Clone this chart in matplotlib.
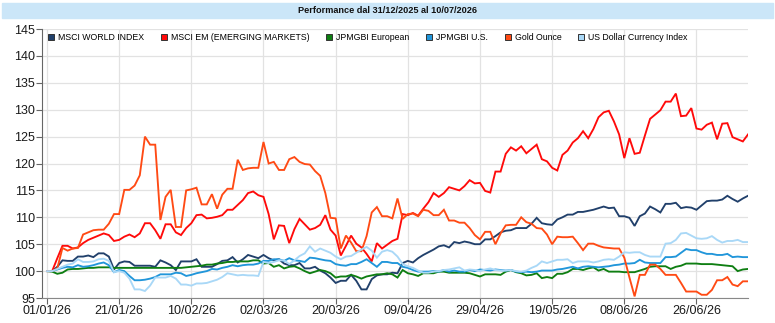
import numpy as np
import pandas as pd
import matplotlib
matplotlib.use('Agg')
import matplotlib.pyplot as plt
from matplotlib.lines import Line2D
from matplotlib.patches import Rectangle

plt.rcParams['font.family'] = ['Liberation Sans', 'DejaVu Sans']

# business days 01/01/2026 -> 10/07/2026
dates = pd.bdate_range('2026-01-01', '2026-07-10')

series_names = ['MSCI WORLD INDEX', 'MSCI EM (EMERGING MARKETS)', 'JPMGBI European',
                'JPMGBI U.S.', 'Gold Ounce', 'US Dollar Currency Index']

msci_world = [
    100.0, 100.0, 100.8, 102.0, 101.9, 101.9, 102.7, 102.7, 102.9, 102.6,
    103.3, 103.3, 102.7, 100.3, 101.5, 101.8, 101.7, 101.0, 101.0, 101.0,
    101.0, 100.8, 102.0, 101.6, 101.1, 100.2, 101.8, 101.8, 101.8, 102.2,
    100.8, 100.8, 100.8, 101.3, 101.9, 102.0, 102.6, 101.6, 102.2, 103.0,
    102.7, 102.4, 103.0, 102.4, 102.0, 102.2, 101.4, 101.1, 101.1, 101.5,
    100.5, 100.5, 100.8, 100.1, 99.6, 98.8, 97.8, 98.2, 98.2, 99.3,
    98.2, 96.6, 96.6, 98.5, 99.2, 99.4, 99.4, 99.7, 99.6, 101.5,
    101.9, 101.6, 102.4, 103.0, 103.5, 104.0, 104.6, 104.8, 104.4, 105.4,
    105.2, 105.5, 105.3, 105.0, 105.0, 105.9, 105.9, 106.5, 107.2, 107.5,
    107.6, 108.0, 108.0, 108.0, 108.8, 109.9, 108.9, 108.7, 108.6, 109.6,
    110.0, 110.5, 110.5, 111.0, 111.0, 111.2, 111.4, 111.7, 112.0, 111.7,
    111.8, 110.2, 110.2, 109.9, 108.4, 110.2, 110.7, 112.0, 111.5, 110.9,
    112.5, 112.5, 112.7, 111.7, 111.9, 111.8, 111.4, 112.2, 113.0, 113.1,
    113.1, 113.3, 114.0, 113.4, 112.9, 113.5, 114.0,
]

msci_em = [
    100.0, 100.0, 102.4, 104.7, 104.7, 104.2, 104.4, 105.2, 105.8, 106.2,
    106.6, 107.0, 106.7, 105.6, 105.8, 106.4, 106.8, 106.3, 107.0, 108.9,
    108.9, 107.6, 106.0, 108.7, 108.7, 107.2, 106.7, 108.0, 108.9, 110.4,
    110.5, 109.8, 109.9, 110.1, 110.4, 111.4, 111.4, 112.3, 113.2, 114.5,
    114.8, 114.1, 113.8, 110.6, 105.9, 108.5, 108.4, 105.2, 107.8, 109.7,
    108.7, 107.7, 108.0, 108.6, 110.4, 107.7, 106.6, 102.9, 104.7, 106.6,
    105.1, 104.4, 103.2, 101.8, 105.2, 104.2, 104.9, 105.6, 106.0, 110.6,
    110.4, 110.8, 110.3, 111.6, 112.8, 114.5, 113.8, 114.5, 115.6, 115.3,
    115.0, 115.8, 116.9, 116.3, 116.4, 114.9, 114.6, 118.5, 118.5, 121.8,
    123.0, 122.4, 123.2, 121.9, 122.7, 123.5, 120.8, 120.4, 119.2, 118.7,
    121.6, 122.4, 123.9, 124.7, 126.0, 124.7, 126.4, 128.6, 129.5, 129.8,
    127.8, 125.4, 121.0, 124.7, 121.8, 122.0, 125.2, 128.3, 129.1, 129.9,
    131.5, 131.5, 133.0, 128.8, 128.9, 130.3, 126.5, 126.3, 127.2, 127.6,
    124.5, 127.4, 127.5, 124.9, 124.5, 124.1, 125.4,
]

jpm_european = [
    100.0, 99.9, 99.5, 99.7, 100.3, 100.4, 100.4, 100.5, 100.6, 100.6,
    100.7, 100.7, 100.7, 100.6, 100.6, 100.6, 100.6, 100.6, 100.6, 100.6,
    100.6, 100.6, 100.6, 100.6, 100.6, 100.6, 100.6, 100.7, 100.8, 100.9,
    101.0, 101.2, 101.2, 101.4, 101.5, 101.7, 101.7, 101.8, 101.8, 101.8,
    102.0, 102.0, 101.4, 101.5, 100.8, 101.1, 100.5, 100.8, 100.9, 100.5,
    100.0, 99.6, 99.9, 100.2, 100.0, 99.6, 98.8, 99.0, 99.0, 99.3,
    99.0, 98.6, 99.0, 99.2, 99.4, 99.4, 99.6, 99.4, 98.8, 100.2,
    99.6, 99.4, 99.1, 99.6, 99.6, 99.6, 99.9, 99.9, 99.7, 99.7,
    99.7, 99.7, 99.6, 99.3, 99.0, 99.4, 99.4, 99.4, 99.3, 99.9,
    100.2, 99.8, 99.6, 99.2, 99.3, 99.6, 98.7, 98.9, 98.7, 99.5,
    99.5, 99.8, 100.4, 100.4, 100.2, 100.5, 100.7, 100.1, 100.4, 99.9,
    99.9, 99.9, 99.8, 99.8, 99.8, 100.1, 100.4, 100.8, 100.9, 100.9,
    100.9, 100.4, 100.8, 101.0, 101.4, 101.4, 101.4, 101.3, 101.3, 101.3,
    101.2, 101.1, 101.0, 100.9, 100.0, 100.3, 100.4,
]

jpm_us = [
    100.0, 100.0, 100.3, 100.6, 100.8, 100.7, 101.1, 100.8, 100.9, 101.1,
    101.4, 101.6, 101.1, 99.8, 100.2, 100.0, 99.1, 98.3, 98.3, 98.4,
    98.6, 98.9, 99.4, 99.4, 99.4, 99.7, 99.6, 99.1, 99.3, 99.6,
    99.8, 100.0, 100.4, 100.3, 100.6, 100.8, 101.1, 100.9, 101.1, 101.2,
    101.2, 101.4, 101.9, 101.9, 102.2, 102.2, 101.9, 102.4, 102.0, 101.9,
    101.7, 102.5, 102.4, 102.2, 102.0, 101.9, 101.3, 101.1, 101.0, 101.3,
    101.3, 101.7, 102.2, 101.5, 100.8, 101.7, 101.7, 101.5, 101.5, 100.8,
    100.6, 100.2, 99.9, 99.9, 99.9, 100.0, 99.9, 100.2, 99.9, 100.1,
    99.9, 99.9, 100.2, 100.0, 100.3, 100.2, 100.1, 100.3, 100.2, 100.1,
    100.2, 99.9, 99.8, 99.9, 99.8, 99.9, 100.1, 100.1, 100.1, 100.3,
    100.4, 100.6, 100.8, 100.5, 100.8, 100.9, 100.8, 100.7, 100.8, 100.9,
    101.1, 101.2, 101.4, 101.4, 101.5, 102.1, 101.6, 101.5, 101.5, 101.5,
    102.6, 102.6, 102.7, 103.4, 104.1, 103.9, 103.9, 103.5, 103.2, 103.2,
    103.0, 103.0, 103.2, 102.6, 102.7, 102.6, 102.6,
]

gold = [
    100.0, 100.0, 100.5, 104.3, 103.8, 104.2, 104.3, 106.8, 107.2, 107.6,
    107.7, 107.7, 108.8, 110.6, 110.6, 115.1, 115.1, 115.9, 117.8, 125.0,
    123.5, 123.5, 109.5, 113.8, 115.1, 108.2, 108.2, 115.0, 115.2, 115.5,
    112.4, 112.4, 114.3, 111.6, 114.2, 115.3, 115.3, 120.7, 118.8, 119.1,
    119.2, 119.2, 124.0, 120.0, 120.3, 118.8, 118.8, 120.8, 121.2, 120.3,
    119.9, 119.8, 118.6, 117.7, 114.5, 109.9, 109.8, 104.2, 106.6, 105.3,
    103.7, 103.7, 106.5, 110.9, 111.9, 110.2, 110.2, 109.8, 113.5, 109.7,
    110.6, 110.7, 110.2, 111.4, 111.2, 110.4, 110.4, 111.4, 109.4, 109.4,
    109.0, 109.0, 108.0, 106.7, 105.9, 107.3, 107.3, 105.0, 107.0, 108.5,
    108.6, 108.6, 110.0, 109.1, 108.8, 108.0, 107.9, 106.8, 105.0, 106.4,
    106.3, 106.3, 106.4, 105.2, 103.9, 105.1, 105.1, 104.7, 104.4, 104.3,
    104.2, 104.2, 102.5, 98.8, 95.3, 99.3, 99.3, 101.2, 101.2, 100.4,
    99.3, 99.3, 99.3, 97.8, 96.2, 96.2, 96.2, 95.6, 95.6, 96.5,
    98.3, 98.3, 98.9, 97.5, 97.2, 98.1, 98.1,
]

usd_index = [
    100.0, 100.0, 100.4, 100.8, 101.2, 101.4, 102.2, 101.7, 101.7, 101.8,
    102.2, 102.3, 101.9, 99.8, 100.0, 99.7, 98.6, 96.6, 96.6, 96.3,
    97.3, 98.8, 98.8, 98.8, 99.1, 98.6, 97.5, 97.5, 97.3, 97.7,
    97.7, 97.8, 98.1, 98.4, 98.9, 99.6, 99.4, 99.2, 99.3, 99.2,
    99.2, 99.1, 101.7, 101.5, 101.7, 102.0, 102.0, 101.3, 102.0, 102.8,
    103.3, 104.6, 103.6, 104.2, 103.8, 103.4, 102.7, 102.2, 102.7, 102.8,
    103.4, 104.0, 104.5, 103.8, 102.5, 103.6, 103.9, 103.6, 102.7, 101.3,
    100.9, 100.6, 100.1, 99.7, 99.7, 99.9, 100.0, 100.2, 100.3, 100.5,
    100.7, 100.1, 100.3, 100.2, 100.0, 100.3, 100.5, 100.2, 100.1, 100.1,
    100.2, 100.0, 99.9, 100.1, 100.6, 101.0, 101.8, 101.5, 101.8, 102.1,
    102.1, 102.2, 101.5, 101.8, 101.8, 101.8, 101.6, 101.8, 102.1, 102.2,
    102.1, 102.7, 103.5, 103.4, 103.5, 103.5, 103.0, 102.7, 102.7, 102.7,
    105.1, 105.2, 105.8, 107.0, 107.1, 106.6, 106.1, 106.0, 106.1, 106.5,
    105.8, 105.3, 105.6, 105.6, 105.8, 105.4, 105.4,
]

tick_labels = ['01/01/26', '21/01/26', '10/02/26', '02/03/26', '20/03/26',
               '09/04/26', '29/04/26', '19/05/26', '08/06/26', '26/06/26']
yticks = [95, 100, 105, 110, 115, 120, 125, 130, 135, 140, 145]

colors = ['#21406B', '#FF0A0A', '#0E7E12', '#2196DA', '#FF4A14', '#A9D8F7']
data = [msci_world, msci_em, jpm_european, jpm_us, gold, usd_index]

x = np.arange(len(dates))

fig = plt.figure(figsize=(7.75, 3.23), dpi=100)
# title band
fig.patches.append(Rectangle((2 / 775, 1 - 17.5 / 323), 771 / 775, 14.5 / 323,
                             transform=fig.transFigure, color='#CBE6F8', zorder=0))
fig.text(0.5, 1 - 10.5 / 323, 'Performance dal 31/12/2025 al 10/07/2026',
         ha='center', va='center', fontsize=6.6, fontweight='bold', color='#111111')

ax = fig.add_axes([42 / 775, 25 / 323, 706 / 775, 269 / 323])

for vals, c in zip(data, colors):
    ax.plot(x, vals, color=c, lw=1.35, solid_joinstyle='miter')

ax.set_xlim(-0.97, len(dates) - 1)
ax.set_ylim(95, 145)
ax.set_yticks(yticks)
ax.set_xticks(x[::14])
ax.set_xticklabels(tick_labels)
ax.tick_params(axis='both', labelsize=9, colors='#666666', labelcolor='#1a1a1a',
               length=4, width=0.8)
ax.tick_params(axis='x', pad=1)
ax.tick_params(axis='y', pad=1)
ax.grid(True, color='#E2E2E2', lw=0.9)
ax.set_axisbelow(True)
for s in ['top', 'right']:
    ax.spines[s].set_visible(False)
ax.spines['left'].set_color('#666666')
ax.spines['bottom'].set_color('#888888')

handles = [Line2D([], [], ls='none', marker='s', markersize=5, markerfacecolor=c,
                  markeredgecolor='#333333', markeredgewidth=0.7) for c in colors]
ax.legend(handles, series_names, loc='upper left', bbox_to_anchor=(0.008, 0.985),
          ncol=6, frameon=False, fontsize=6.3, handlelength=0.8, handletextpad=0.4,
          columnspacing=1.85, borderpad=0, borderaxespad=0)

fig.savefig('out.png', dpi=100)
